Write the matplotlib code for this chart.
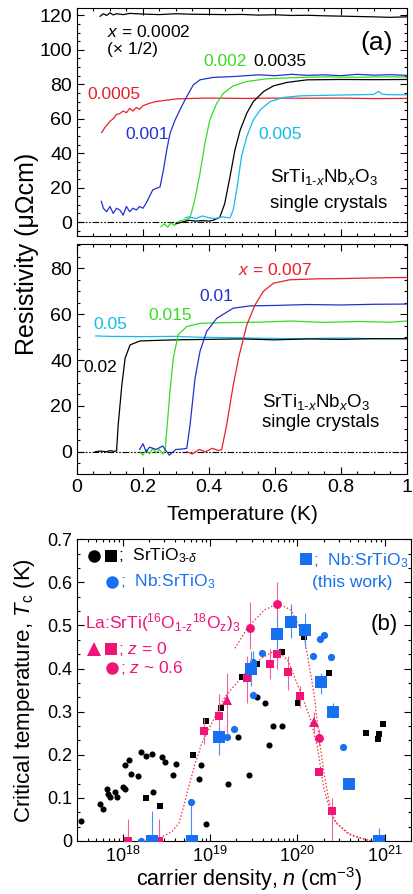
import matplotlib
matplotlib.use('Agg')
import matplotlib.pyplot as plt
from matplotlib.ticker import MultipleLocator, FuncFormatter, LogLocator
import numpy as np

plt.rcParams['font.family'] = ['Liberation Sans', 'DejaVu Sans']
plt.rcParams['mathtext.fontset'] = 'custom'
plt.rcParams['mathtext.rm'] = 'Liberation Sans'
plt.rcParams['mathtext.it'] = 'Liberation Sans:italic'
plt.rcParams['mathtext.bf'] = 'Liberation Sans:bold'
plt.rcParams['axes.linewidth'] = 0.8

# ---- panel (a), upper: resistivity curves (uOhm cm) vs T (K)
T_0002 = [0.07, 0.08, 0.09, 0.10, 0.11, 0.12, 0.14, 0.16, 0.20, 0.25, 0.30, 0.35, 0.40, 0.45,
          0.50, 0.55, 0.60, 0.65, 0.70, 0.75, 0.80, 0.85, 0.90, 0.95, 1.00]
R_0002 = [119.5, 121.0, 120.0, 121.5, 120.3, 121.0, 120.5, 121.2, 120.8, 120.5, 121.0, 120.7, 120.6,
          120.5, 120.6, 120.2, 120.4, 120.0, 120.1, 119.8, 119.6, 119.4, 119.2, 118.9, 119.2]
T_0005 = [0.075, 0.085, 0.10, 0.11, 0.12, 0.13, 0.14, 0.15, 0.16, 0.17, 0.18, 0.19, 0.20, 0.22,
          0.24, 0.26, 0.28, 0.30, 0.35, 0.40, 0.50, 0.60, 0.70, 0.80, 0.90, 1.00]
R_0005 = [52, 55, 58.5, 60, 62.5, 63, 64.5, 63.5, 66, 64.5, 66.5, 65.5, 67.5, 69,
          70, 70.5, 71, 71.5, 71.8, 72, 71.8, 72, 71.9, 72, 71.7, 71.8]
T_001 = [0.074, 0.08, 0.09, 0.10, 0.11, 0.12, 0.13, 0.14, 0.15, 0.16, 0.17, 0.18, 0.19, 0.20,
         0.21, 0.23, 0.252, 0.262, 0.272, 0.282, 0.297, 0.317, 0.333, 0.353, 0.373, 0.413,
         0.474, 0.55, 0.60, 0.65, 0.70, 0.75, 0.80, 0.85, 0.90, 0.95, 1.00]
R_001 = [12, 8, 6, 9, 5, 8, 7, 4, 9, 6, 8, 7, 9, 8,
         11, 18.7, 20.4, 30, 41.6, 51.4, 59, 67, 72.9, 79.7, 82.6, 84,
         84.5, 85.5, 85, 85.8, 85.2, 85.5, 85.0, 85.8, 85.3, 85.6, 85.2]
T_002 = [0.255, 0.265, 0.275, 0.285, 0.295, 0.31, 0.32, 0.333, 0.343, 0.357, 0.373, 0.388,
         0.403, 0.424, 0.444, 0.474, 0.515, 0.575, 0.677, 0.75, 0.85, 0.95, 1.00]
R_002 = [-2.7, -1, -3, -0.5, -2, 0.5, 1, 1.5, 2.4, 12.6, 28.2, 45.7,
         59.3, 69, 74.8, 79.1, 81.6, 83.2, 84, 84.3, 84.1, 84.4, 84.2]
T_0035 = [0.30, 0.32, 0.34, 0.36, 0.38, 0.40, 0.413, 0.433, 0.448, 0.464, 0.479, 0.495,
          0.515, 0.535, 0.566, 0.596, 0.637, 0.698, 0.80, 0.90, 1.00]
R_0035 = [-1, 0, 1, 0.5, 0.8, 0.5, 1, 2.7, 10.6, 26.2, 41.8, 53.4,
          63.2, 70, 75.8, 79.1, 81.1, 82.6, 82.8, 82.7, 82.8]
T_005 = [0.328, 0.34, 0.36, 0.38, 0.40, 0.42, 0.44, 0.464, 0.474, 0.486, 0.499, 0.515,
         0.535, 0.556, 0.586, 0.627, 0.677, 0.778, 0.90, 0.915, 0.925, 0.94, 1.00]
R_005 = [2.4, 3, 2, 3.5, 2.5, 2, 3, 2.4, 7, 20.6, 38, 49.6,
         59.3, 65.2, 70, 72.4, 73.3, 73.7, 74.1, 75.9, 74.3, 74.0, 73.9]

# ---- panel (a), lower
T_02 = [0.055, 0.07, 0.09, 0.10, 0.11, 0.12, 0.125, 0.136, 0.146, 0.161, 0.191, 0.25,
        0.30, 0.40, 0.50, 0.60, 0.70, 0.80, 0.90, 1.00]
R_02 = [0, 0.3, 0, 0.5, 0.2, 0.3, 11.7, 29, 40.8, 46.6, 48.3, 48.6,
        48.8, 49, 49.2, 48.8, 49.2, 49, 49.3, 49.3]
T_05 = [0.057, 0.10, 0.20, 0.30, 0.374, 0.45, 0.55, 0.68, 0.80, 0.90, 1.00]
R_05 = [50.5, 50.3, 50.2, 50.3, 49.9, 49.8, 49.5, 49.3, 49.6, 49.3, 49.3]
T_015 = [0.191, 0.20, 0.21, 0.22, 0.23, 0.24, 0.25, 0.26, 0.267, 0.272, 0.282, 0.292,
         0.307, 0.333, 0.373, 0.45, 0.55, 0.65, 0.75, 0.85, 0.95, 1.00]
R_015 = [0, -1.5, 1, -1, 1.5, -0.5, 1, -1, 0.5, 8.7, 26.2, 40.8,
         51, 54.6, 56, 56.3, 56.5, 57, 56.4, 56.8, 56.5, 57]
T_01 = [0.19, 0.20, 0.21, 0.22, 0.24, 0.26, 0.28, 0.30, 0.32, 0.333, 0.343, 0.358,
        0.373, 0.393, 0.424, 0.474, 0.525, 0.60, 0.70, 0.80, 0.90, 1.00]
R_01 = [1, 3.5, 0, 2, 1, 2.5, -1.5, 1, 1.2, 1.5, 11.7, 32,
        43.7, 52.4, 58.2, 62.6, 63.6, 63.8, 64.2, 64, 64.3, 64.4]
T_007 = [0.333, 0.35, 0.37, 0.39, 0.41, 0.43, 0.439, 0.454, 0.474, 0.49, 0.515, 0.54,
         0.565, 0.596, 0.646, 0.73, 0.80, 0.90, 1.00]
R_007 = [0, -1, 1, 0, 1.5, 0.5, 1, 11.7, 29, 40.8, 55.3, 64,
         69.9, 73.5, 75, 75.4, 75.5, 75.8, 76]

# ---- panel (b): Tc (K) vs carrier density (cm^-3)
n_bk_circ = [3.3e17, 5.5e17, 5.9e17, 6.6e17, 6.8e17, 7.2e17, 8.1e17, 8.7e17, 1.0e18, 1.05e18,
             1.05e18, 1.17e18, 1.26e18, 1.51e18, 1.62e18, 1.86e18, 2.19e18, 2.24e18, 2.82e18,
             3.09e18, 3.8e18, 4.07e18, 7.4e18, 7.9e18, 9.1e18, 1.62e19, 2.09e19, 3.47e19,
             4.27e19, 2.82e19, 4.68e19, 5.25e19, 6.6e19]
tc_bk_circ = [0.046, 0.086, 0.074, 0.12, 0.108, 0.101, 0.114, 0.101, 0.125, 0.121,
              0.176, 0.189, 0.155, 0.150, 0.206, 0.197, 0.202, 0.114, 0.194,
              0.184, 0.152, 0.179, 0.143, 0.176, 0.039, 0.132, 0.242, 0.333,
              0.321, 0.152, 0.222, 0.267, 0.267]
n_bk_sq = [1.86e18, 2.66e18, 6.46e18, 9.06e18, 1.33e19, 2.34e19, 3.47e19, 6.6e19, 1.2e20,
           1.02e20, 2.29e20, 6.17e20, 8.3e20, 8.5e20, 9.5e20]
tc_bk_sq = [0.099, 0.081, 0.199, 0.278, 0.309, 0.381, 0.411, 0.439, 0.474,
            0.321, 0.389, 0.251, 0.236, 0.248, 0.271]
n_nb_circ = [1.61e18, 6.12e18, 1.29e19, 1.57e19, 1.88e19, 3.09e19, 3.09e19, 3.89e19, 1.8e20,
             2.0e20, 1.51e20, 2.45e20, 3.31e20]
tc_nb_circ = [0.0, 0.091, 0.241, 0.241, 0.259, 0.339, 0.415, 0.437, 0.468,
              0.478, 0.429, 0.428, 0.217]
lo_nb_circ = [0, 0.091, 0, 0, 0, 0, 0.025, 0, 0, 0, 0, 0, 0]
hi_nb_circ = [0, 0, 0, 0, 0, 0, 0.025, 0, 0, 0, 0, 0, 0]
n_nb_sq = [2.19e18, 6.24e18, 1.26e19, 2.95e19, 5.89e19, 8.5e19, 1.22e20, 1.86e20, 2.57e20,
           3.89e20, 8.5e20]
tc_nb_sq = [0.0, 0.0, 0.242, 0.398, 0.48, 0.509, 0.49, 0.37, 0.299, 0.132, 0.0]
lo_nb_sq = [0, 0, 0.042, 0.038, 0.04, 0.039, 0.04, 0.03, 0.014, 0, 0]
hi_nb_sq = [0.07, 0, 0.023, 0.042, 0.04, 0.041, 0.04, 0.02, 0.021, 0, 0.03]
n_la_sq = [1.14e18, 2.63e18, 8.65e18, 1.28e19, 2.63e19, 4.9e19, 5.89e19, 7.76e19, 1.07e20,
           1.78e20, 2.51e20]
tc_la_sq = [0.0, 0.0, 0.255, 0.29, 0.377, 0.41, 0.434, 0.393, 0.336, 0.159, 0.07]
lo_la_sq = [0, 0, 0.03, 0.03, 0.057, 0.035, 0.034, 0.043, 0.026, 0, 0.07]
hi_la_sq = [0.05, 0.05, 0.03, 0.05, 0.053, 0.035, 0.026, 0.037, 0.024, 0, 0.03]
n_la_tri = [1.55e19, 1.55e20]
tc_la_tri = [0.327, 0.275]
lo_la_tri = [0.077, 0.025]
hi_la_tri = [0.063, 0.025]
n_la_circ = [2.85e19, 5.89e19, 1.78e20]
tc_la_circ = [0.495, 0.55, 0.238]
lo_la_circ = [0.05, 0.05, 0.018]
hi_la_circ = [0.06, 0.05, 0.022]
n_fit_z0 = [2.51e18, 2.85e18, 3.69e18, 4.4e18, 5.0e18, 5.71e18, 6.76e18, 8.07e18, 9.61e18,
            1.49e19, 2.51e19, 3.86e19, 5.71e19, 7.76e19, 1.1e20, 1.42e20, 1.69e20, 2.02e20,
            2.38e20, 2.82e20, 4.22e20, 7.08e20]
tc_fit_z0 = [0.0, 0.01, 0.022, 0.041, 0.08, 0.126, 0.18, 0.227, 0.258,
             0.335, 0.389, 0.424, 0.443, 0.42, 0.343, 0.281, 0.219, 0.12,
             0.07, 0.04, 0.012, 0.0]
n_fit_z6 = [1.93e19, 2.73e19, 4.22e19, 5.97e19, 8.43e19, 1.2e20, 1.55e20, 1.77e20, 2.02e20,
            2.29e20, 2.62e20, 3.72e20, 6.24e20, 8.9e20]
tc_fit_z6 = [0.447, 0.497, 0.536, 0.551, 0.536, 0.474, 0.343, 0.242, 0.157,
             0.095, 0.049, 0.018, 0.002, 0.0]

RED = '#e8202a'
BLUE = '#2233cc'
GREEN = '#33dd22'
CYAN = '#11bbee'
PINK = '#f01478'
PINK_ERR = '#f0609a'
NB = '#1670f0'
NB_ERR = '#4a90ee'

fig = plt.figure(figsize=(4.13, 8.94), dpi=100)
ax1 = fig.add_axes([0.1864, 0.7355, 0.7983, 0.2553])
ax2 = fig.add_axes([0.1864, 0.4698, 0.7983, 0.2573])
ax3 = fig.add_axes([0.1864, 0.0593, 0.8087, 0.3375])

zero_dash = (0, (6, 1.5, 1.5, 1.5, 1.5, 1.5))
lw = 0.9

# upper panel (a)
ax1.axhline(0, color='black', lw=0.8, ls=zero_dash)
ax1.plot(T_0002, R_0002, color='black', lw=lw)
ax1.plot(T_0005, R_0005, color=RED, lw=lw)
ax1.plot(T_001, R_001, color=BLUE, lw=lw)
ax1.plot(T_002, R_002, color=GREEN, lw=lw)
ax1.plot(T_0035, R_0035, color='black', lw=lw)
ax1.plot(T_005, R_005, color=CYAN, lw=lw)
ax1.set_xlim(0, 1)
ax1.set_ylim(-8.4, 124.2)
ax1.set_yticks([0, 20, 40, 60, 80, 100, 120])
ax1.yaxis.set_minor_locator(MultipleLocator(5))
ax1.xaxis.set_major_locator(MultipleLocator(0.2))
ax1.xaxis.set_minor_locator(MultipleLocator(0.05))
ax1.tick_params(labelbottom=False)

lab = dict(transform=ax1.transAxes, va='center', ha='left', fontsize=12.5)
ax1.text(0.091, 0.896, '$x$ = 0.0002', color='black', **lab)
ax1.text(0.091, 0.817, '(× 1/2)', color='black', **lab)
ax1.text(0.959, 0.848, '(a)', transform=ax1.transAxes, ha='right', va='center', fontsize=19)
ax1.text(0.382, 0.765, '0.002', color=GREEN, **lab)
ax1.text(0.534, 0.765, '0.0035', color='black', **lab)
ax1.text(0.033, 0.620, '0.0005', color=RED, **lab)
ax1.text(0.146, 0.445, '0.001', color=BLUE, **lab)
ax1.text(0.549, 0.445, '0.005', color=CYAN, **lab)
ax1.text(0.585, 0.24, 'SrTi$_{1\\text{-}x}$Nb$_x$O$_3$', transform=ax1.transAxes,
         ha='left', va='baseline', fontsize=13.5)
ax1.text(0.585, 0.124, 'single crystals', transform=ax1.transAxes,
         ha='left', va='baseline', fontsize=13.5)

# lower panel (a)
ax2.axhline(0, color='black', lw=0.8, ls=zero_dash)
ax2.plot(T_05, R_05, color=CYAN, lw=lw)
ax2.plot(T_02, R_02, color='black', lw=lw)
ax2.plot(T_015, R_015, color=GREEN, lw=lw)
ax2.plot(T_01, R_01, color=BLUE, lw=lw)
ax2.plot(T_007, R_007, color=RED, lw=lw)
ax2.set_xlim(0, 1)
ax2.set_ylim(-9.7, 90.6)
ax2.set_yticks([0, 20, 40, 60, 80])
ax2.yaxis.set_minor_locator(MultipleLocator(5))
ax2.xaxis.set_major_locator(MultipleLocator(0.2))
ax2.xaxis.set_minor_locator(MultipleLocator(0.05))
ax2.xaxis.set_major_formatter(FuncFormatter(lambda v, p: '%g' % round(v, 2)))

lab2 = dict(transform=ax2.transAxes, va='center', ha='left', fontsize=12.5)
ax2.text(0.488, 0.887, '$x$ = 0.007', color=RED, **lab2)
ax2.text(0.370, 0.770, '0.01', color=BLUE, **lab2)
ax2.text(0.218, 0.691, '0.015', color=GREEN, **lab2)
ax2.text(0.049, 0.648, '0.05', color=CYAN, **lab2)
ax2.text(0.018, 0.461, '0.02', color='black', **lab2)
ax2.text(0.561, 0.292, 'SrTi$_{1\\text{-}x}$Nb$_x$O$_3$', transform=ax2.transAxes,
         ha='left', va='baseline', fontsize=13.5)
ax2.text(0.561, 0.205, 'single crystals', transform=ax2.transAxes,
         ha='left', va='baseline', fontsize=13.5)

for ax in (ax1, ax2):
    ax.tick_params(which='both', direction='in', top=True, right=True, width=0.8, labelsize=14)
    ax.tick_params(which='major', length=5)
    ax.tick_params(which='minor', length=2.5)

fig.text(0.065, 0.716, 'Resistivity (μΩcm)', rotation=90, ha='center', va='center', fontsize=18)
fig.text(0.587, 0.425, 'Temperature (K)', ha='center', va='center', fontsize=15)

# panel (b)
ax3.plot(n_fit_z0, tc_fit_z0, color='#ee3333', lw=0.9, ls=(0, (1.2, 1.6)), zorder=2)
ax3.plot(n_fit_z6, tc_fit_z6, color='#ee3333', lw=0.9, ls=(0, (1.2, 1.6)), zorder=2)
ax3.plot(n_bk_circ, tc_bk_circ, 'o', color='black', ms=4.4, mew=0, zorder=3)
ax3.plot(n_bk_sq, tc_bk_sq, 's', color='black', ms=4.0, mew=0, zorder=3)
ax3.errorbar(n_nb_circ, tc_nb_circ, yerr=[lo_nb_circ, hi_nb_circ], fmt='o', color=NB, ms=5.2,
             mew=0, ecolor=NB_ERR, elinewidth=0.8, capsize=0, zorder=4)
ax3.errorbar(n_la_sq, tc_la_sq, yerr=[lo_la_sq, hi_la_sq], fmt='s', color=PINK, ms=6.4,
             mew=0, ecolor=PINK_ERR, elinewidth=0.8, capsize=2, capthick=0.8, zorder=5)
ax3.errorbar(n_la_tri, tc_la_tri, yerr=[lo_la_tri, hi_la_tri], fmt='^', color=PINK, ms=7,
             mew=0, ecolor=PINK_ERR, elinewidth=0.8, capsize=2, capthick=0.8, zorder=5)
ax3.errorbar(n_la_circ, tc_la_circ, yerr=[lo_la_circ, hi_la_circ], fmt='o', color=PINK, ms=6.4,
             mew=0, ecolor=PINK_ERR, elinewidth=0.8, capsize=2, capthick=0.8, zorder=5)
ax3.errorbar(n_nb_sq, tc_nb_sq, yerr=[lo_nb_sq, hi_nb_sq], fmt='s', color=NB, ms=8.2,
             mew=0, ecolor=NB_ERR, elinewidth=0.8, capsize=2, capthick=0.8, zorder=6)

ax3.set_xscale('log')
ax3.set_xlim(3e17, 2e21)
ax3.set_ylim(0, 0.7)
ax3.set_xticks([1e18, 1e19, 1e20, 1e21])
ax3.xaxis.set_minor_locator(LogLocator(base=10, subs=np.arange(2, 10)))
ax3.xaxis.set_minor_formatter(FuncFormatter(lambda v, p: ''))
ax3.yaxis.set_major_locator(MultipleLocator(0.1))
ax3.yaxis.set_minor_locator(MultipleLocator(0.1 / 3))
ax3.yaxis.set_major_formatter(FuncFormatter(lambda v, p: '0' if abs(v) < 1e-9 else '%.1f' % v))
ax3.tick_params(which='both', direction='in', top=True, right=True, width=0.8, labelsize=13)
ax3.tick_params(which='major', length=5)
ax3.tick_params(which='minor', length=2.5)

# legend keys drawn as markers in axes fraction, then the text
key = dict(transform=ax3.transAxes, clip_on=False, mew=0, ls='none')
ax3.plot([0.050], [0.946], 'o', color='black', ms=9, **key)
ax3.plot([0.101], [0.946], 's', color='black', ms=8.4, **key)
ax3.plot([0.105], [0.858], 'o', color=NB, ms=9, **key)
ax3.plot([0.685], [0.935], 's', color=NB, ms=8.4, **key)
ax3.plot([0.050], [0.636], '^', color=PINK, ms=10, **key)
ax3.plot([0.101], [0.636], 's', color=PINK, ms=8.4, **key)
ax3.plot([0.105], [0.572], 'o', color=PINK, ms=9, **key)

lab3 = dict(transform=ax3.transAxes, va='baseline', ha='left', fontsize=12.5)
ax3.text(0.123, 0.931, ';  SrTiO$_{3\\text{-}\\delta}$', color='black', **lab3)
ax3.text(0.129, 0.843, ';  Nb:SrTiO$_3$', color=NB, **lab3)
ax3.text(0.707, 0.915, ';  Nb:SrTiO$_3$', color=NB, **lab3)
ax3.text(0.825, 0.843, '(this work)', color=NB, transform=ax3.transAxes, va='baseline',
         ha='center', fontsize=12.5)
ax3.text(0.024, 0.705, 'La:SrTi($^{16}$O$_{1\\text{-}\\mathrm{z}}$$^{18}$O$_\\mathrm{z}$)$_3$',
         color=PINK, **lab3)
ax3.text(0.123, 0.619, '; $z$ = 0', color=PINK, **lab3)
ax3.text(0.129, 0.557, '; $z$ ~ 0.6', color=PINK, **lab3)
ax3.text(0.962, 0.716, '(b)', transform=ax3.transAxes, ha='right', va='center', fontsize=16)

fig.text(0.0605, 0.228, 'Critical temperature, $T_\\mathrm{c}$ (K)', rotation=90,
         ha='center', va='center', fontsize=16)
fig.text(0.604, 0.017, 'carrier density, $n$ (cm$^{-3}$)', ha='center', va='center', fontsize=15.5)

fig.savefig('out.png', dpi=100)
